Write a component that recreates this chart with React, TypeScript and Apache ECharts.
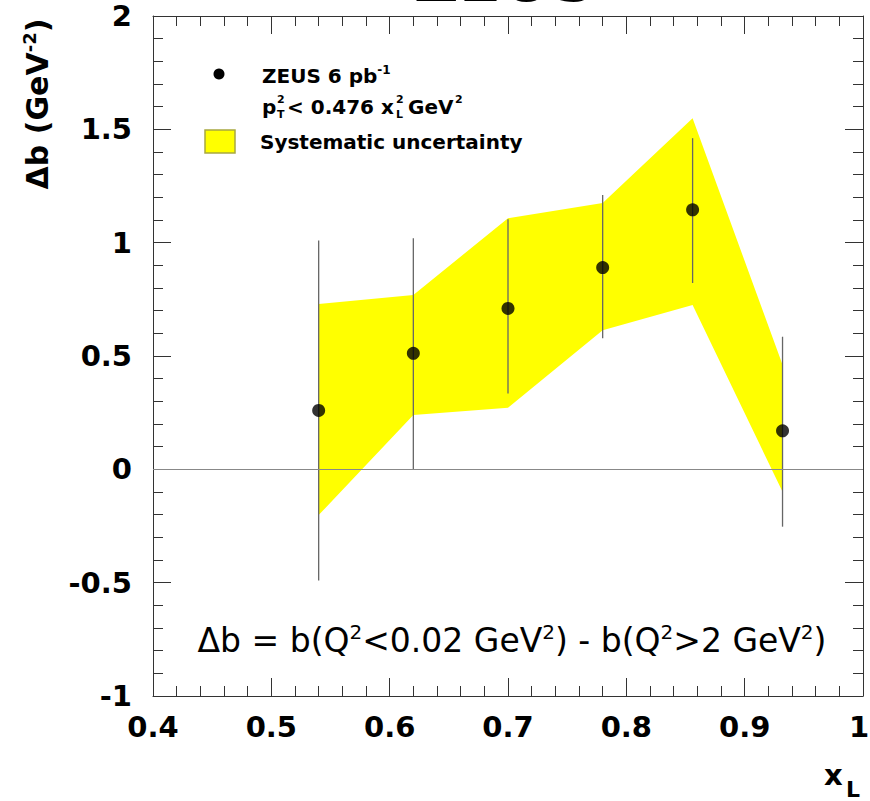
import React, { useEffect, useRef } from "react";
import * as echarts from "echarts";

// x_L bin centres
const xL = [0.54, 0.62, 0.7, 0.78, 0.856, 0.932];
// Δb measured values (GeV^-2)
const deltaB = [0.26, 0.512, 0.71, 0.89, 1.145, 0.17];
// statistical error bar ends
const statLow = [-0.49, 0.0, 0.335, 0.578, 0.822, -0.253];
const statHigh = [1.01, 1.02, 1.103, 1.21, 1.461, 0.585];
// systematic uncertainty band
const sysLow = [-0.202, 0.24, 0.272, 0.614, 0.725, -0.099];
const sysHigh = [0.729, 0.769, 1.108, 1.175, 1.549, 0.461];

const xTicks = [0.4, 0.5, 0.6, 0.7, 0.8, 0.9, 1.0];
const yTicks = [-1, -0.5, 0, 0.5, 1, 1.5, 2];

const FONT = "DejaVu Sans";

export default function App() {
  const ref = useRef<HTMLDivElement>(null);

  useEffect(() => {
    if (!ref.current) return;
    document.body.style.margin = "0";
    document.body.style.overflow = "hidden";
    const chart = echarts.init(ref.current, null, { renderer: "svg", width: 870, height: 801 });

    const labelFont = { fontFamily: FONT, fontWeight: "bold", fontSize: 29, color: "#000" };

    const axisCommon = (showLabel: boolean) => ({
      axisLine: { show: true, onZero: false, lineStyle: { color: "#333", width: 1 } },
      axisTick: { show: true, inside: true, length: 18, lineStyle: { color: "#333", width: 1 } },
      minorTick: { show: true, splitNumber: 5, length: 10, lineStyle: { color: "#333", width: 1 } },
      splitLine: { show: false },
      minorSplitLine: { show: false },
      axisLabel: { show: showLabel, ...labelFont },
    });

    const xBase = { type: "value", min: xTicks[0], max: xTicks[xTicks.length - 1], interval: 0.1 };
    const yBase = { type: "value", min: yTicks[0], max: yTicks[yTicks.length - 1], interval: 0.5 };

    const fmt = (v: number) => String(Math.round(v * 10) / 10);
    const fmtX = (v: number) => (v >= xTicks[xTicks.length - 1] - 1e-9 ? `{m|${fmt(v)}}` : fmt(v));

    const bandData = xL.map((x, i) => [x, sysLow[i], sysHigh[i]]);
    const errData = xL.map((x, i) => [x, statLow[i], statHigh[i]]);
    const ptData = xL.map((x, i) => [x, deltaB[i]]);

    const supStyle = (size: number) => ({
      fontFamily: FONT, fontWeight: "bold", fontSize: size, verticalAlign: "top", lineHeight: size + 2, fill: "#000",
    });

    const option: any = {
      animation: false,
      backgroundColor: "#fff",
      grid: { left: 153, top: 16, width: 710, height: 680, containLabel: false, outerBoundsMode: "none" },
      xAxis: [
        {
          ...xBase, position: "bottom", ...axisCommon(true),
          axisLabel: {
            ...axisCommon(true).axisLabel, margin: 16, formatter: fmtX,
            rich: { m: { ...labelFont, padding: [0, 8, 0, 0] } },
          },
        },
        { ...xBase, position: "top", ...axisCommon(false) },
      ],
      yAxis: [
        { ...yBase, position: "left", ...axisCommon(true), axisLabel: { ...axisCommon(true).axisLabel, margin: 21, formatter: fmt } },
        { ...yBase, position: "right", ...axisCommon(false) },
      ],
      series: [
        {
          type: "custom", name: "Systematic uncertainty", xAxisIndex: 0, yAxisIndex: 0, z: 1, silent: true,
          data: bandData, encode: { x: 0, y: [1, 2] },
          renderItem: (params: any, api: any) => {
            if (params.dataIndex !== 0) return null;
            const upper = bandData.map((d) => api.coord([d[0], d[2]]));
            const lower = bandData.map((d) => api.coord([d[0], d[1]])).reverse();
            return { type: "polygon", shape: { points: upper.concat(lower) }, style: { fill: "#ffff00", stroke: "none" } };
          },
        },
        {
          type: "custom", name: "stat", xAxisIndex: 0, yAxisIndex: 0, z: 2, silent: true,
          data: errData, encode: { x: 0, y: [1, 2] },
          renderItem: (params: any, api: any) => {
            const a = api.coord([api.value(0), api.value(1)]);
            const b = api.coord([api.value(0), api.value(2)]);
            return { type: "line", shape: { x1: a[0], y1: a[1], x2: b[0], y2: b[1] }, style: { stroke: "#666", lineWidth: 1.3 } };
          },
          markLine: {
            silent: true, symbol: ["none", "none"], label: { show: false },
            lineStyle: { color: "#888", type: "solid", width: 1.2 }, data: [{ yAxis: 0 }],
          },
        },
        {
          type: "scatter", name: "ZEUS 6 pb-1", xAxisIndex: 0, yAxisIndex: 0, z: 3, silent: true,
          symbol: "circle", symbolSize: 13, itemStyle: { color: "#000" }, data: ptData,
        },
      ],
      graphic: [
        {
          type: "text", x: 505, y: -21,
          style: { text: "ZEUS", fontFamily: FONT, fontWeight: "bold", fontSize: 62, fill: "#000", align: "center", verticalAlign: "middle" },
        },
        {
          type: "text", x: 37, y: 104, rotation: Math.PI / 2,
          style: {
            text: "{a|Δb (GeV}{s|-2}{a|)}", align: "center", verticalAlign: "middle",
            rich: { a: { fontFamily: FONT, fontWeight: "bold", fontSize: 30, lineHeight: 34, fill: "#000" }, s: supStyle(18) },
          },
        },
        { type: "text", x: 824, y: 775, style: { text: "x", fontFamily: FONT, fontWeight: "bold", fontSize: 29, fill: "#000", align: "left", verticalAlign: "middle" } },
        { type: "text", x: 846, y: 789, style: { text: "L", fontFamily: FONT, fontWeight: "bold", fontSize: 22, fill: "#000", align: "left", verticalAlign: "middle" } },
        { type: "circle", shape: { cx: 219, cy: 74, r: 5.5 }, style: { fill: "#000" } },
        {
          type: "text", x: 262, y: 76,
          style: {
            text: "{a|ZEUS 6 pb}{s|-1}", align: "left", verticalAlign: "middle",
            rich: { a: { fontFamily: FONT, fontWeight: "bold", fontSize: 20, lineHeight: 24, fill: "#000" }, s: supStyle(12) },
          },
        },
        { type: "text", x: 262, y: 107, style: { text: "p", fontFamily: FONT, fontWeight: "bold", fontSize: 20, fill: "#000", align: "left", verticalAlign: "middle" } },
        { type: "text", x: 277, y: 99, style: { text: "2", fontFamily: FONT, fontWeight: "bold", fontSize: 11, fill: "#000", align: "left", verticalAlign: "middle" } },
        { type: "text", x: 277, y: 114, style: { text: "T", fontFamily: FONT, fontWeight: "bold", fontSize: 11, fill: "#000", align: "left", verticalAlign: "middle" } },
        { type: "text", x: 287, y: 107, style: { text: "< 0.476 x", fontFamily: FONT, fontWeight: "bold", fontSize: 20, fill: "#000", align: "left", verticalAlign: "middle" } },
        { type: "text", x: 396, y: 99, style: { text: "2", fontFamily: FONT, fontWeight: "bold", fontSize: 11, fill: "#000", align: "left", verticalAlign: "middle" } },
        { type: "text", x: 396, y: 114, style: { text: "L", fontFamily: FONT, fontWeight: "bold", fontSize: 11, fill: "#000", align: "left", verticalAlign: "middle" } },
        { type: "text", x: 408, y: 107, style: { text: "GeV", fontFamily: FONT, fontWeight: "bold", fontSize: 20, fill: "#000", align: "left", verticalAlign: "middle" } },
        { type: "text", x: 455, y: 99, style: { text: "2", fontFamily: FONT, fontWeight: "bold", fontSize: 11, fill: "#000", align: "left", verticalAlign: "middle" } },
        { type: "rect", shape: { x: 205, y: 130, width: 30, height: 23 }, style: { fill: "#ffff00", stroke: "#a8a840", lineWidth: 1.5 } },
        {
          type: "text", x: 260, y: 142,
          style: { text: "Systematic uncertainty", fontFamily: FONT, fontWeight: "bold", fontSize: 20, fill: "#000", align: "left", verticalAlign: "middle" },
        },
        {
          type: "text", x: 512, y: 640,
          style: {
            text: "{a|Δb = b(Q}{s|2}{a|<0.02 GeV}{s|2}{a|) - b(Q}{s|2}{a|>2 GeV}{s|2}{a|)}",
            align: "center", verticalAlign: "middle",
            rich: {
              a: { fontFamily: FONT, fontSize: 33, lineHeight: 37, fill: "#000" },
              s: { fontFamily: FONT, fontSize: 20, verticalAlign: "top", lineHeight: 22, fill: "#000" },
            },
          },
        },
      ],
    };

    chart.setOption(option);
    return () => chart.dispose();
  }, []);

  return (
    <div ref={ref} style={{ position: "absolute", left: 0, top: 0, width: 870, height: 801, background: "#fff" }} />
  );
}
